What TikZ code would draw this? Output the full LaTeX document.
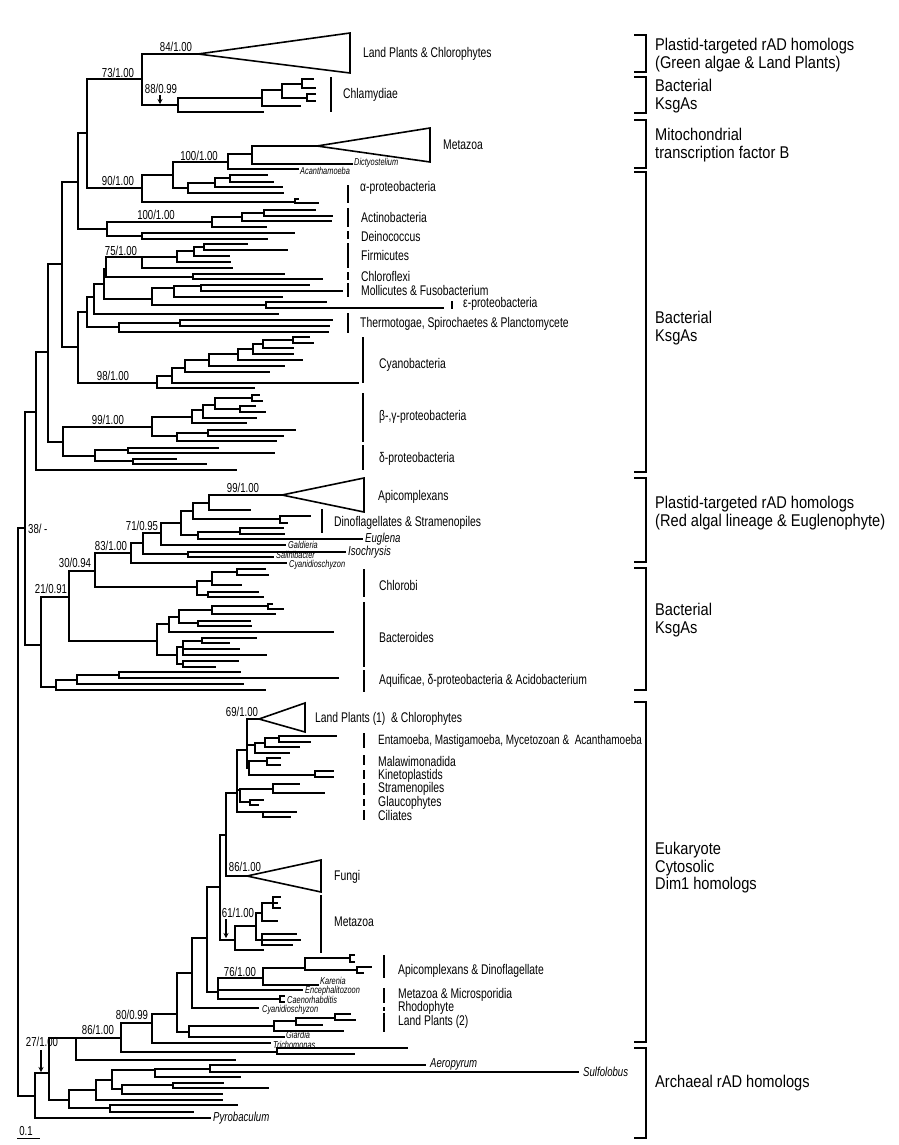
\documentclass[tikz,border=0pt]{standalone}
\usepackage{fontspec}
\setmainfont{Liberation Sans}
\newfontfamily\nf{Liberation Sans}[FakeStretch=0.74]
\newfontfamily\rf{Liberation Sans}[FakeStretch=0.86]
\usetikzlibrary{arrows.meta}
\newcommand\tn[4]{\draw[tr] (#1,#2) -- (#1,#3); \foreach \yy/\xx in {#4} {\draw[tr] (#1,\yy) -- (\xx,\yy);}}
\newcommand\cbar[3]{\draw[bar] (#1,#2) -- (#1,#3);}
\newcommand\rbr[2]{\draw[tr,line cap=butt] (634,#1) -- (646,#1) -- (646,#2) -- (634,#2);}
\begin{document}
\begin{tikzpicture}[x=1pt,y=-1pt,
  tr/.style={line width=1.6pt, line cap=rect, line join=miter},
  bar/.style={line width=1.6pt},
  lab/.style={anchor=west, inner sep=0pt, font=\nf\fontsize{14}{14}\selectfont},
  bs/.style={inner sep=0pt, font=\nf\fontsize{13}{13}\selectfont},
  sit/.style={anchor=west, inner sep=0pt, font=\nf\itshape\fontsize{10}{10}\selectfont},
  bit/.style={anchor=west, inner sep=0pt, font=\nf\itshape\fontsize{13}{13}\selectfont},
  rlab/.style={anchor=west, inner sep=0pt, align=left, font=\rf\fontsize{17}{17.5}\selectfont},
  arr/.style={line width=1.2pt, -{Stealth[length=5pt,width=5pt]}}]
\useasboundingbox (0,0) rectangle (898,1145);
% ---------- backbone
\tn{18}{528}{1096}{528/25, 1096/35}
\tn{25}{412}{645}{412/36, 645/41}
\tn{36}{352}{470}{352/48, 470/236}
\tn{48}{264}{442}{264/62, 442/63}
\tn{62}{182}{347}{182/78, 347/78}
\tn{78}{133}{229}{133/87, 229/107}
\tn{87}{79}{188}{79/142, 188/142}
% plastid green + chlamydiae
\tn{142}{54}{105}{54/198, 105/178}
\draw[tr] (198,54) -- (350,33) -- (350,73) -- cycle;
\tn{178}{98}{112}{98/262, 112/263}
\tn{262}{90}{106}{90/282, 106/300}
\tn{282}{84}{98}{84/302, 98/307}
\tn{302}{79}{88}{79/313, 88/315}
\tn{307}{94}{101}{94/315, 101/315}
% mitochondrial + alpha
\tn{142}{175}{202}{175/173, 202/295}
\tn{173}{162}{188}{162/228, 188/188}
\tn{228}{154}{169}{154/252, 169/298}
\tn{252}{146}{164}{146/317, 164/352}
\draw[tr] (317,146) -- (430,128) -- (430,162) -- cycle;
\tn{188}{183}{193}{183/215, 193/283}
\tn{215}{178}{187}{178/230, 187/282}
\tn{230}{175}{182}{175/267, 182/273}
\tn{295}{199}{203}{199/298, 203/318}
% actino, deinococcus
\tn{107}{222}{236}{222/212, 236/142}
\tn{212}{217}{227}{217/242, 227/266}
\tn{242}{213}{221}{213/264, 221/331}
\tn{264}{210}{216}{210/315, 216/332}
\tn{142}{233}{239}{233/294, 239/267}
% firmicutes ... thermotogae
\tn{78}{312}{383}{312/87, 383/157}
\tn{87}{297}{327}{297/94, 327/119}
\tn{94}{284}{314}{284/104, 314/278}
\tn{104}{269}{299}{269/106, 299/152}
\tn{106}{257}{277}{257/142, 277/193}
\tn{142}{257}{268}{257/177, 268/232}
\tn{177}{251}{262}{251/194, 262/230}
\tn{194}{247}{256}{247/204, 256/229}
\tn{204}{244}{250}{244/247, 250/287}
\tn{193}{274}{279}{274/284, 279/322}
\tn{152}{288}{305}{288/174, 305/266}
\tn{174}{286}{297}{286/201, 297/282}
\tn{201}{285}{291}{285/309, 291/342}
\tn{266}{302}{308}{302/326, 308/443}
\tn{119}{323}{332}{323/180, 332/328}
\tn{180}{320}{326}{320/332, 326/329}
% cyanobacteria
\tn{157}{376}{388}{376/172, 388/254}
\tn{172}{368}{383}{368/185, 383/358}
\tn{185}{360}{372}{360/209, 372/269}
\tn{209}{354}{366}{354/238, 366/284}
\tn{238}{349}{360}{349/253, 360/302}
\tn{253}{344}{354}{344/263, 354/293}
\tn{263}{340}{348}{340/293, 348/293}
\tn{293}{337}{343}{337/309, 343/313}
% beta gamma delta
\tn{63}{427}{456}{427/152, 456/95}
\tn{152}{417}{436}{417/192, 436/177}
\tn{192}{410}{423}{410/203, 423/246}
\tn{203}{405}{418}{405/215, 418/256}
\tn{215}{398}{409}{398/252, 409/240}
\tn{252}{395}{401}{395/259, 401/262}
\tn{240}{406}{412}{406/255, 412/265}
\tn{177}{433}{441}{433/208, 441/276}
\tn{208}{430}{436}{430/295, 436/283}
\tn{95}{450}{461}{450/128, 461/133}
\tn{128}{448}{453}{448/218, 453/274}
\tn{133}{459}{464}{459/176, 464/206}
% plastid red lineage
\tn{41}{597}{687}{597/69, 687/56}
\tn{69}{571}{641}{571/95, 641/157}
\tn{95}{553}{587}{553/131, 587/197}
\tn{131}{543}{563}{543/143, 563/286}
\tn{143}{533}{554}{533/161, 554/188}
\tn{188}{552}{557}{552/345, 557/273}
\tn{161}{523}{545}{523/181, 545/285}
\tn{181}{511}{535}{511/193, 535/198}
\tn{193}{503}{519}{503/209, 519/280}
\tn{209}{495}{510}{495/282, 510/250}
\draw[tr] (282,495) -- (364,478) -- (364,512) -- cycle;
\tn{280}{516}{523}{516/310, 523/287}
\tn{198}{532}{539}{532/240, 539/362}
\tn{240}{528}{534}{528/283, 534/284}
% chlorobi
\tn{197}{581}{595}{581/212, 595/208}
\tn{212}{572}{585}{572/237, 585/241}
\tn{237}{569}{575}{569/265, 575/268}
\tn{208}{592}{597}{592/258, 597/263}
% bacteroides
\tn{157}{624}{655}{624/169, 655/177}
\tn{169}{617}{632}{617/179, 632/333}
\tn{179}{610}{623}{610/212, 623/198}
\tn{212}{606}{614}{606/268, 614/275}
\tn{268}{604}{609}{604/272, 609/283}
\tn{198}{621}{626}{621/250, 626/251}
\tn{177}{647}{664}{647/183, 664/183}
\tn{183}{641}{655}{641/202, 649/239, 655/266}
\tn{202}{638}{643}{638/256, 643/229}
\tn{183}{661}{667}{661/238, 667/215}
% aquificae
\tn{56}{680}{690}{680/77, 690/265}
\tn{77}{675}{684}{675/119, 684/243}
\tn{119}{672}{678}{672/240, 678/338}
% eukaryotes
\tn{35}{1073}{1118}{1073/49, 1118/210}
\tn{49}{1038}{1100}{1038/76, 1100/69}
\tn{76}{1038}{1060}{1038/121, 1060/235}
\tn{121}{1023}{1052}{1023/152, 1052/277}
\tn{277}{1048}{1054}{1048/407, 1054/354}
\tn{152}{1014}{1043}{1014/177, 1043/270}
\tn{177}{973}{1032}{973/192, 1032/189}
\tn{189}{1026}{1037}{1026/274, 1037/284}
\tn{274}{1021}{1031}{1021/296, 1031/343}
\tn{296}{1018}{1025}{1018/335, 1025/322}
\tn{335}{1014}{1020}{1014/350, 1020/355}
\tn{192}{938}{1008}{938/207, 1008/258}
\tn{207}{887}{992}{887/220, 992/218}
\tn{220}{835}{940}{835/226, 940/235}
\tn{226}{793}{876}{793/237, 876/247}
\draw[tr] (247,876) -- (321,860) -- (321,892) -- cycle;
\tn{237}{750}{812}{750/247, 790/240, 812/263}
\tn{247}{719}{768}{719/259, 745/255, 768/249}
\draw[tr] (259,719) -- (305,703) -- (305,732) -- cycle;
\tn{255}{743}{753}{743/265, 753/289}
\tn{265}{738}{747}{738/279, 747/299}
\tn{279}{736}{742}{736/336, 742/310}
\tn{249}{761}{775}{761/267, 775/315}
\tn{267}{758}{765}{758/280, 765/280}
\tn{315}{771}{777}{771/333, 777/333}
\tn{240}{789}{802}{789/273, 802/250}
\tn{273}{784}{793}{784/299, 793/324}
\tn{250}{800}{805}{800/263, 805/258}
\tn{263}{812}{817}{812/296, 817/290}
% metazoa
\tn{235}{926}{950}{926/256, 950/263}
\tn{256}{913}{940}{913/262, 940/262}
\tn{262}{903}{921}{903/273, 921/277}
\tn{273}{897}{908}{897/280, 903/277, 908/280}
\tn{262}{934}{945}{934/296, 940/300, 945/292}
% apicomplexa etc
\tn{218}{978}{999}{978/263, 990/302, 999/280}
\tn{263}{968}{985}{968/305, 985/318}
\tn{305}{958}{970}{958/350, 970/357}
\tn{350}{955}{962}{955/354, 962/354}
\tn{357}{967}{973}{967/371, 973/363}
\tn{280}{996}{1002}{996/284, 1002/284}
% archaea
\tn{69}{1090}{1108}{1090/96, 1108/110}
\tn{110}{1105}{1112}{1105/237, 1112/193}
\tn{96}{1080}{1100}{1080/112, 1100/222}
\tn{112}{1070}{1089}{1070/155, 1089/122}
\tn{155}{1069}{1077}{1069/210, 1077/240}
\tn{210}{1065}{1072}{1065/425, 1072/578}
\tn{122}{1085}{1094}{1085/173, 1094/222}
\tn{173}{1083}{1088}{1083/223, 1088/268}
% ---------- clade bars
\cbar{331}{77}{112}
\cbar{348}{185}{203}
\cbar{348}{208}{227}
\cbar{348}{231}{239}
\cbar{348}{243}{268}
\cbar{348}{272}{280}
\cbar{348}{283}{297}
\cbar{452}{301}{309}
\cbar{348}{313}{333}
\cbar{363}{337}{383}
\cbar{363}{393}{442}
\cbar{363}{445}{470}
\cbar{322}{509}{533}
\cbar{364}{569}{597}
\cbar{364}{602}{667}
\cbar{364}{670}{692}
\cbar{364}{733}{748}
\cbar{364}{755}{765}
\cbar{364}{770}{779}
\cbar{364}{783}{795}
\cbar{364}{799}{806}
\cbar{364}{810}{820}
\cbar{321}{895}{953}
\cbar{384}{955}{978}
\cbar{384}{988}{1003}
\cbar{384}{1007}{1011}
\cbar{384}{1013}{1032}
% ---------- clade labels
\node[lab] (t1) at (363,54) {Land Plants \& Chlorophytes};
\node[lab] (t2) at (343,95) {Chlamydiae};
\node[lab] (t3) at (443,145) {Metazoa};
\node[lab] (t4) at (360,188) {α-proteobacteria};
\node[lab] (t5) at (361,217) {Actinobacteria};
\node[lab] (t6) at (361,236) {Deinococcus};
\node[lab] (t7) at (361,255) {Firmicutes};
\node[lab] (t8) at (361,276) {Chloroflexi};
\node[lab] (t9) at (361,290) {Mollicutes \& Fusobacterium};
\node[lab] (t10) at (463,304) {ε-proteobacteria};
\node[lab] (t11) at (360,324) {Thermotogae, Spirochaetes \& Planctomycete};
\node[lab] (t12) at (379,365) {Cyanobacteria};
\node[lab] (t13) at (379,417) {β-,γ-proteobacteria};
\node[lab] (t14) at (379,459) {δ-proteobacteria};
\node[lab] (t15) at (378,497) {Apicomplexans};
\node[lab] (t16) at (334,523) {Dinoflagellates \& Stramenopiles};
\node[lab] (t17) at (379,585) {Chlorobi};
\node[lab] (t18) at (379,637) {Bacteroides};
\node[lab] (t19) at (379,681) {Aquificae, δ-proteobacteria \& Acidobacterium};
\node[lab] (t20) at (315,719) {Land Plants (1) \ \& Chlorophytes};
\node[lab,font=\nf\fontsize{13.5}{13.5}\selectfont] (t21) at (378,741) {Entamoeba, Mastigamoeba, Mycetozoan \& \ Acanthamoeba};
\node[lab] (t22) at (378,761) {Malawimonadida};
\node[lab] (t23) at (378,776) {Kinetoplastids};
\node[lab] (t24) at (378,789) {Stramenopiles};
\node[lab] (t25) at (378,803) {Glaucophytes};
\node[lab] (t26) at (378,815) {Ciliates};
\node[lab] (t27) at (334,877) {Fungi};
\node[lab] (t28) at (334,922) {Metazoa};
\node[lab] (t29) at (398,971) {Apicomplexans \& Dinoflagellate};
\node[lab] (t30) at (398,995) {Metazoa \& Microsporidia};
\node[lab] (t31) at (398,1008) {Rhodophyte};
\node[lab] (t32) at (398,1022) {Land Plants (2)};
% ---------- taxon names
\node[sit] (s1) at (354,163) {Dictyostelium};
\node[sit] (s2) at (300,171) {Acanthamoeba};
\node[sit] (s3) at (288,545) {Galdieria};
\node[bit] (s4) at (365,539) {Euglena};
\node[bit] (s5) at (348,552) {Isochrysis};
\node[sit] (s6) at (276,554.5) {Salinibacter};
\node[sit] (s7) at (289,564.5) {Cyanidioschyzon};
\node[sit] (s8) at (320,981) {Karenia};
\node[sit] (s9) at (305,991) {Encephalitozoon};
\node[sit] (s10) at (287,1000) {Caenorhabditis};
\node[sit] (s11) at (262,1009.5) {Cyanidioschyzon};
\node[sit] (s12) at (286,1035) {Giardia};
\node[sit] (s13) at (273,1044.5) {Trichomonas};
\node[bit] (s14) at (430,1064) {Aeropyrum};
\node[bit] (s15) at (583,1072) {Sulfolobus};
\node[bit] (s16) at (213,1118) {Pyrobaculum};
% ---------- support values
\node[bs] (b1) at (176,47) {84/1.00};
\node[bs] (b2) at (118,73) {73/1.00};
\node[bs] (b3) at (161,89) {88/0.99};
\node[bs] (b4) at (199,156) {100/1.00};
\node[bs] (b5) at (118,181) {90/1.00};
\node[bs] (b6) at (156,215) {100/1.00};
\node[bs] (b7) at (121,251) {75/1.00};
\node[bs] (b8) at (113,376) {98/1.00};
\node[bs] (b9) at (108,420) {99/1.00};
\node[bs,anchor=west] (b10) at (28,529) {38/ -};
\node[bs] (b11) at (243,488) {99/1.00};
\node[bs] (b12) at (142,526) {71/0.95};
\node[bs] (b13) at (111,546) {83/1.00};
\node[bs] (b14) at (75,563) {30/0.94};
\node[bs] (b15) at (51,589) {21/0.91};
\node[bs] (b16) at (242,712) {69/1.00};
\node[bs] (b17) at (245,867) {86/1.00};
\node[bs] (b18) at (238,913) {61/1.00};
\node[bs] (b19) at (240,972) {76/1.00};
\node[bs] (b20) at (132,1015) {80/0.99};
\node[bs] (b21) at (98,1030) {86/1.00};
\node[bs] (b22) at (42,1042) {27/1.00};
\coordinate (a1s) at (160,95); \coordinate (a1e) at (160,104);
\draw[arr] (a1s) -- (a1e);
\coordinate (a2s) at (226,919); \coordinate (a2e) at (226,938);
\draw[arr] (a2s) -- (a2e);
\coordinate (a3s) at (41,1050); \coordinate (a3e) at (41,1072);
\draw[arr] (a3s) -- (a3e);
% scale bar
\node[bs] (sc) at (26,1131) {0.1};
\coordinate (sb1) at (17,1138); \coordinate (sb2) at (40,1138);
\draw[line width=1pt] (sb1) -- (sb2);
% ---------- right brackets
\rbr{35}{72}
\rbr{77}{113}
\rbr{120}{168}
\rbr{172}{472}
\rbr{478}{562}
\rbr{568}{690}
\rbr{702}{1042}
\rbr{1048}{1138}
\node[rlab] (r1) at (655,55) {Plastid-targeted rAD homologs\\(Green algae \& Land Plants)};
\node[rlab] (r2) at (655,96) {Bacterial\\KsgAs};
\node[rlab] (r3) at (655,145) {Mitochondrial\\transcription factor B};
\node[rlab] (r4) at (655,328) {Bacterial\\KsgAs};
\node[rlab] (r5) at (655,513) {Plastid-targeted rAD homologs\\(Red algal lineage \& Euglenophyte)};
\node[rlab] (r6) at (655,620) {Bacterial\\KsgAs};
\node[rlab] (r7) at (655,868) {Eukaryote\\Cytosolic\\Dim1 homologs};
\node[rlab] (r8) at (655,1083) {Archaeal rAD homologs};
\end{tikzpicture}
\end{document}
